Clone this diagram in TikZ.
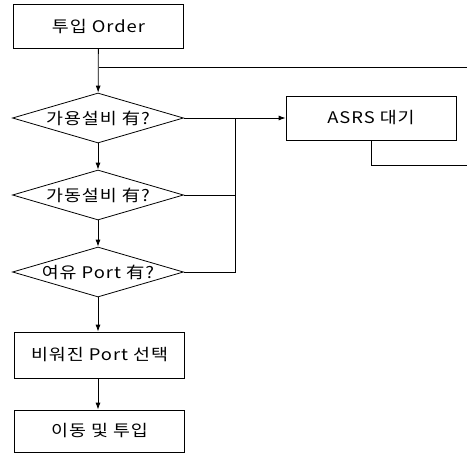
\documentclass[tikz,border=0pt]{standalone}
\usepackage{fontspec}
\setmainfont{Noto Sans CJK KR}[FakeStretch=1.15, LetterSpace=6]
\usetikzlibrary{shapes.geometric,arrows.meta}
\begin{document}
\begin{tikzpicture}[x=1pt,y=-1pt,
  txt/.style={font=\fontsize{16}{18}\selectfont},
  box/.style={draw, line width=0.8pt, minimum width=170pt, minimum height=44pt, inner sep=0pt, txt},
  dec/.style={draw, shape=diamond, aspect=3.42, minimum width=171pt, minimum height=50pt, inner sep=0pt, line width=0.8pt, txt},
  conn/.style={line width=0.8pt},
  arr/.style={conn, -{Latex[length=7pt,width=5pt]}}]
\useasboundingbox (0,0) rectangle (467,453);
\node[box] (order) at (98.5,26.5) {투입 Order};
\node[dec] (d1) at (98,118) {가용설비 有?};
\node[dec] (d2) at (98,195) {가동설비 有?};
\node[dec] (d3) at (98,272) {여유 Port 有?};
\node[box] (asrs) at (371,118) {ASRS 대기};
\node[box, minimum height=46pt] (sel) at (99.5,355) {비워진 Port 선택};
\node[box, minimum height=42pt] (move) at (99.5,431) {이동 및 투입};
\coordinate (j1) at (98.5,67);
\coordinate (e1) at (467,67);
\coordinate (v) at (235,118);
\coordinate (vb) at (235,272);
\coordinate (a1) at (371,165);
\coordinate (a2) at (467,165);
\draw[arr] (order) -- (d1);
\draw[conn] (j1) -- (e1);
\draw[arr] (d1) -- (d2);
\draw[arr] (d2) -- (d3);
\draw[arr] (d3.south) -- (d3.south |- sel.north);
\draw[arr] (sel.south -| d3.south) -- (d3.south |- move.north);
\draw[arr] (d1.east) -- (asrs.west);
\draw[conn] (d3.east) -- (vb) -- (v);
\draw[conn] (d2.east) -- (d2.east -| vb);
\draw[conn] (asrs.south) -- (a1) -- (a2);
\end{tikzpicture}
\end{document}
